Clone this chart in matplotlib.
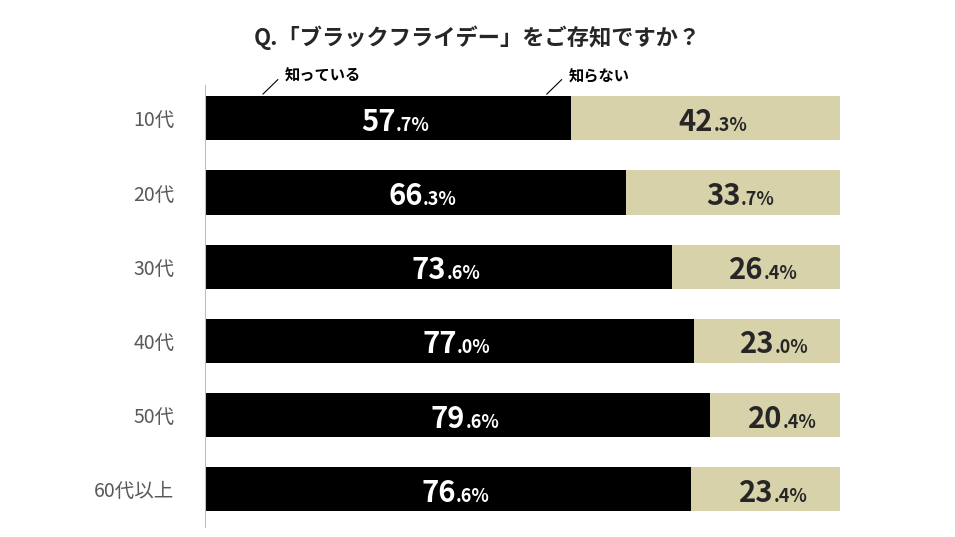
import matplotlib.pyplot as plt

plt.rcParams['font.family'] = 'Noto Sans CJK JP'

ages = ['10代', '20代', '30代', '40代', '50代', '60代以上']
know = [57.7, 66.3, 73.6, 77.0, 79.6, 76.6]
dont_know = [42.3, 33.7, 26.4, 23.0, 20.4, 23.4]

fig = plt.figure(figsize=(9.55, 5.37), dpi=100)
ax = fig.add_axes([205 / 955, 10 / 537, 635 / 955, 442 / 537])

y = list(range(len(ages)))
ax.barh(y, know, height=0.595, color='black')
ax.barh(y, dont_know, left=know, height=0.595, color='#d8d2aa')


def pct_label(x, yy, v, color):
    s = f'{v:.1f}'
    whole, dec = s.split('.')
    ax.text(x + 1.2, yy + 0.17, whole, ha='right', va='baseline', fontsize=21,
            fontweight='bold', color=color)
    ax.text(x + 1.2, yy + 0.17, '.' + dec + '%', ha='left', va='baseline',
            fontsize=13, fontweight='bold', color=color)


for i in y:
    pct_label(know[i] / 2, i, know[i], 'white')
    pct_label(know[i] + dont_know[i] / 2, i, dont_know[i], '#262626')

ax.set_xlim(0, 100)
ax.set_ylim(5.51, -0.45)
ax.set_yticks(y)
ax.set_yticklabels(ages, fontsize=14, color='#595959')
ax.tick_params(axis='y', length=0, pad=22)
ax.set_xticks([])
for side in ['top', 'right', 'bottom']:
    ax.spines[side].set_visible(False)
ax.spines['left'].set_color('#bfbfbf')

# legend labels with leader lines
ax.annotate('', xy=(8.8, -0.3), xytext=(11.8, -0.55), annotation_clip=False,
            arrowprops=dict(arrowstyle='-', color='black', lw=0.8))
ax.text(12.5, -0.57, '知っている', fontsize=11, fontweight='bold', va='center')
ax.annotate('', xy=(53.5, -0.3), xytext=(56.5, -0.55), annotation_clip=False,
            arrowprops=dict(arrowstyle='-', color='black', lw=0.8))
ax.text(57.3, -0.57, '知らない', fontsize=11, fontweight='bold', va='center')

fig.text(0.5, 0.93, 'Q.「ブラックフライデー」をご存知ですか？', ha='center',
         va='center', fontsize=16, fontweight='bold', color='#262626')

fig.savefig('out.png', dpi=100)
